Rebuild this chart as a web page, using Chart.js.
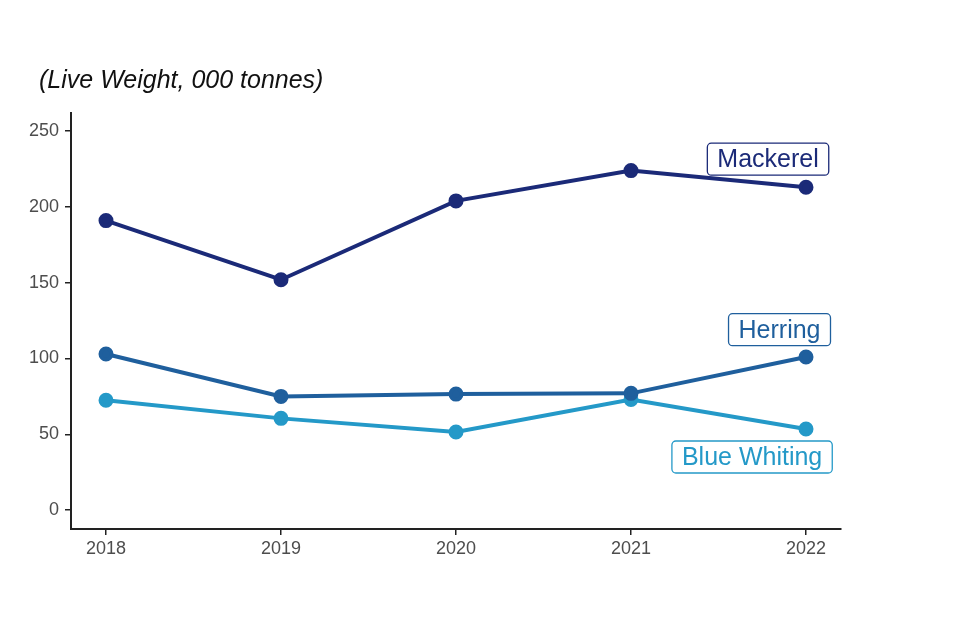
<!DOCTYPE html>
<html>
<head>
<meta charset="utf-8">
<script src="https://cdn.jsdelivr.net/npm/chart.js@4"></script>
<style>
  body { margin: 0; background: #fff; }
  #wrap { width: 960px; height: 640px; }
</style>
</head>
<body>
<div id="wrap"><canvas id="myChart"></canvas></div>
<script>
// data
var years = [2018, 2019, 2020, 2021, 2022];
var mackerel = [191, 152, 204, 224, 213];
var herring = [103, 75, 76.5, 77, 101];
var blueWhiting = [72.5, 60.5, 51.5, 73, 53.5];
var yTicks = [0, 50, 100, 150, 200, 250];

var colMack = '#1b2a78';
var colHerr = '#1f5f9d';
var colBlue = '#2499c8';

function pts(arr) {
  return arr.map(function (v, i) { return { x: years[i], y: v }; });
}

// series labels in boxes (right edge x, centre y in data units)
var boxLabels = [
  { text: 'Mackerel', x: 2022.13, y: 231.5, color: colMack },
  { text: 'Herring', x: 2022.14, y: 119, color: colHerr },
  { text: 'Blue Whiting', x: 2022.15, y: 35, color: colBlue }
];

var labelPlugin = {
  id: 'labelPlugin',
  afterDatasetsDraw: function (chart) {
    var c = chart.ctx;
    var xs = chart.scales.x, ys = chart.scales.y;
    c.save();
    c.font = '25px "Liberation Sans", Arial, sans-serif';
    c.textAlign = 'center';
    c.textBaseline = 'middle';
    boxLabels.forEach(function (l) {
      var rx = xs.getPixelForValue(l.x);
      var cy = ys.getPixelForValue(l.y);
      var w = c.measureText(l.text).width + 20;
      var h = 32;
      var cx = rx - w / 2;
      c.fillStyle = '#fff';
      c.strokeStyle = l.color;
      c.lineWidth = 1.3;
      c.beginPath();
      c.roundRect(cx - w / 2, cy - h / 2, w, h, 4);
      c.fill();
      c.stroke();
      c.fillStyle = l.color;
      c.fillText(l.text, cx, cy + 1);
    });
    // title
    c.fillStyle = '#111';
    c.textAlign = 'left';
    c.font = 'italic 25px "Liberation Sans", Arial, sans-serif';
    c.fillText('(Live Weight, 000 tonnes)', 39, 81);
    c.restore();
  }
};

function ds(label, arr, col) {
  return {
    label: label,
    data: pts(arr),
    borderColor: col,
    backgroundColor: col,
    borderWidth: 4,
    pointRadius: 5.5,
    pointHoverRadius: 5.5,
    tension: 0
  };
}

const ctx = document.getElementById('myChart');
var myChart1 = new Chart(ctx, {
  type: 'line',
  data: {
    datasets: [
      ds('Mackerel', mackerel, colMack),
      ds('Herring', herring, colHerr),
      ds('Blue Whiting', blueWhiting, colBlue)
    ]
  },
  options: {
    responsive: true,
    maintainAspectRatio: false,
    animation: false,
    layout: { padding: { top: 113, right: 119, left: 0, bottom: 0 } },
    plugins: {
      legend: { display: false },
      tooltip: { enabled: false }
    },
    scales: {
      x: {
        type: 'linear',
        min: 2017.8,
        max: 2022.2,
        afterBuildTicks: function (s) { s.ticks = years.map(function (v) { return { value: v }; }); },
        afterFit: function (s) { s.height = 111; },
        grid: { drawOnChartArea: false, tickLength: 6, color: '#222', lineWidth: 1.5 },
        border: { display: true, color: '#222', width: 2 },
        ticks: {
          color: '#4d4d4d',
          padding: 3,
          font: { size: 18, family: '"Liberation Sans", Arial, sans-serif' },
          callback: function (v) { return String(v); }
        }
      },
      y: {
        min: -12.5,
        max: 262,
        afterBuildTicks: function (s) { s.ticks = yTicks.map(function (v) { return { value: v }; }); },
        afterFit: function (s) { s.width = 71; },
        grid: { drawOnChartArea: false, tickLength: 6, color: '#222', lineWidth: 1.5 },
        border: { display: true, color: '#222', width: 2 },
        ticks: {
          color: '#4d4d4d',
          padding: 6,
          font: { size: 18, family: '"Liberation Sans", Arial, sans-serif' }
        }
      }
    }
  },
  plugins: [labelPlugin]
});
</script>
</body>
</html>
